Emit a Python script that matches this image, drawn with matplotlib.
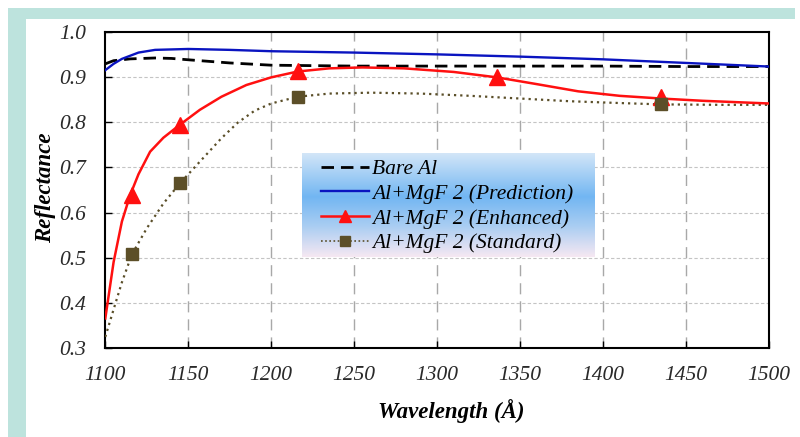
import numpy as np
import matplotlib
matplotlib.use("Agg")
import matplotlib.pyplot as plt
from matplotlib.patches import Rectangle
from matplotlib.colors import LinearSegmentedColormap
from matplotlib.lines import Line2D

# ---- data ----
wl_bare = [1100, 1105, 1115, 1130, 1140, 1150, 1175, 1200, 1250, 1300, 1350, 1400, 1450, 1500]
r_bare = [0.930, 0.937, 0.941, 0.943, 0.942, 0.939, 0.932, 0.927, 0.925, 0.925, 0.925, 0.925, 0.924, 0.924]

wl_pred = [1100, 1105, 1110, 1120, 1130, 1150, 1175, 1200, 1250, 1300, 1350, 1400, 1450, 1500]
r_pred = [0.916, 0.930, 0.941, 0.955, 0.961, 0.963, 0.961, 0.958, 0.955, 0.951, 0.946, 0.940, 0.932, 0.924]

wl_enh = [1100, 1105, 1110, 1115, 1120, 1127, 1135, 1145, 1157, 1170, 1185, 1200, 1216, 1235, 1255, 1280, 1310, 1336, 1360, 1385, 1410, 1435, 1460, 1500]
r_enh = [0.365, 0.490, 0.580, 0.639, 0.685, 0.735, 0.766, 0.795, 0.828, 0.857, 0.883, 0.900, 0.913, 0.920, 0.922, 0.920, 0.912, 0.900, 0.885, 0.869, 0.859, 0.853, 0.848, 0.842]
wl_enh_mk = [1116, 1145, 1216, 1336, 1435]
r_enh_mk = [0.639, 0.795, 0.913, 0.900, 0.857]

wl_std = [1100, 1105, 1110, 1116, 1125, 1135, 1145, 1158, 1170, 1180, 1190, 1200, 1216, 1235, 1260, 1290, 1320, 1350, 1380, 1410, 1435, 1470, 1500]
r_std = [0.324, 0.385, 0.445, 0.507, 0.565, 0.620, 0.665, 0.717, 0.765, 0.800, 0.826, 0.842, 0.857, 0.864, 0.866, 0.864, 0.859, 0.853, 0.847, 0.843, 0.840, 0.839, 0.839]
wl_std_mk = [1116, 1145, 1216, 1435]
r_std_mk = [0.507, 0.665, 0.857, 0.840]

labels = ["Bare Al", "Al+MgF 2 (Prediction)", "Al+MgF 2 (Enhanced)", "Al+MgF 2 (Standard)"]
xticks = [1100, 1150, 1200, 1250, 1300, 1350, 1400, 1450, 1500]
yticks = [0.3, 0.4, 0.5, 0.6, 0.7, 0.8, 0.9, 1.0]

W, H = 800, 437
fig = plt.figure(figsize=(W / 100, H / 100), dpi=100)
fig.patch.set_facecolor("white")

# teal frame and white inner panel
fig.patches.append(Rectangle((8 / W, 0), (795 - 8) / W, (H - 8) / H, transform=fig.transFigure,
                             facecolor="#bde3dd", edgecolor="none", zorder=-10))
fig.patches.append(Rectangle((26 / W, 0), (795 - 26) / W, (H - 19) / H, transform=fig.transFigure,
                             facecolor="white", edgecolor="none", zorder=-9))

x0, x1 = 105.3, 769.0
y0, y1 = 32.3, 347.7
ax = fig.add_axes([x0 / W, 1 - y1 / H, (x1 - x0) / W, (y1 - y0) / H])
ax.set_facecolor("none")
ax.set_xlim(1100, 1500)
ax.set_ylim(0.3, 1.0)

serif = ["Liberation Serif", "DejaVu Serif"]

# grid
for xv in xticks[1:-1]:
    ax.axvline(xv, color="#a8a8a8", lw=1.0, ls=(0, (8, 5)), zorder=0)
for yv in yticks[1:-1]:
    ax.axhline(yv, color="#c4c4c4", lw=0.8, ls=(0, (3, 2)), zorder=0)

l_bare, = ax.plot(wl_bare, r_bare, color="black", lw=2.0, ls=(0, (4.5, 2.5)), zorder=3)
l_pred, = ax.plot(wl_pred, r_pred, color="#0a14c0", lw=1.7, zorder=3)
l_enh, = ax.plot(wl_enh, r_enh, color="#ff1010", lw=1.8, zorder=4)
ax.plot(wl_enh_mk, r_enh_mk, ls="none", marker="^", ms=12, color="#ff1010", zorder=5)
l_std, = ax.plot(wl_std, r_std, color="#5a4e28", lw=1.6, ls=(0, (1, 1.8)), zorder=3)
ax.plot(wl_std_mk, r_std_mk, ls="none", marker="s", ms=9, color="#5c4f28", zorder=5)

# legend handles (with markers)
h_enh = Line2D([], [], color="#ff1010", lw=1.8, marker="^", ms=9)
h_std = Line2D([], [], color="#5a4e28", lw=1.2, ls=(0, (1, 1.5)), marker="s", ms=7,
               markerfacecolor="#5c4f28", markeredgecolor="#5c4f28")

# gradient background for legend
lx0, lx1, ly0, ly1 = 302, 595, 153, 257
cmap = LinearSegmentedColormap.from_list("lg", [(0.0, "#d3e6f8"), (0.42, "#72b6f2"), (0.7, "#a9cdf2"), (1.0, "#f6e8f2")])
grad = np.linspace(0, 1, 256).reshape(-1, 1)
lax = fig.add_axes([lx0 / W, 1 - ly1 / H, (lx1 - lx0) / W, (ly1 - ly0) / H], zorder=5)
lax.imshow(grad, aspect="auto", cmap=cmap, extent=[0, 1, 0, 1], origin="upper")
lax.axis("off")

leg = lax.legend([l_bare, l_pred, h_enh, h_std], labels, loc="upper left", frameon=False,
                 prop={"family": serif, "style": "italic", "size": 15.5},
                 handlelength=2.25, handletextpad=0.12, labelspacing=0.22, borderpad=0.0,
                 borderaxespad=0.0,
                 bbox_to_anchor=((321 - lx0) / (lx1 - lx0), 1 - 6 / (ly1 - ly0)))

for s in ax.spines.values():
    s.set_color("black")
    s.set_linewidth(1.5)
ax.set_xticks(xticks)
ax.set_yticks(yticks)
ax.set_xticklabels([str(v) for v in xticks])
ax.set_yticklabels([f"{v:.1f}" for v in yticks])
ax.tick_params(direction="in", length=5, width=1, colors="black")
for t in ax.get_xticklabels() + ax.get_yticklabels():
    t.set_fontfamily(serif)
    t.set_fontstyle("italic")
    t.set_fontsize(15.5)
    t.set_color("#2a2a2a")
ax.tick_params(axis="x", pad=13)
ax.tick_params(axis="y", pad=14)

fig.text(451 / W, 1 - 411 / H, "Wavelength (Å)", ha="center", va="center",
         fontfamily=serif, fontstyle="italic", fontweight="bold", fontsize=16.5)
fig.text(46 / W, 1 - 188 / H, "Reflectance", ha="center", va="center", rotation=90,
         fontfamily=serif, fontstyle="italic", fontweight="bold", fontsize=16.5)

fig.savefig("out.png", dpi=100)
